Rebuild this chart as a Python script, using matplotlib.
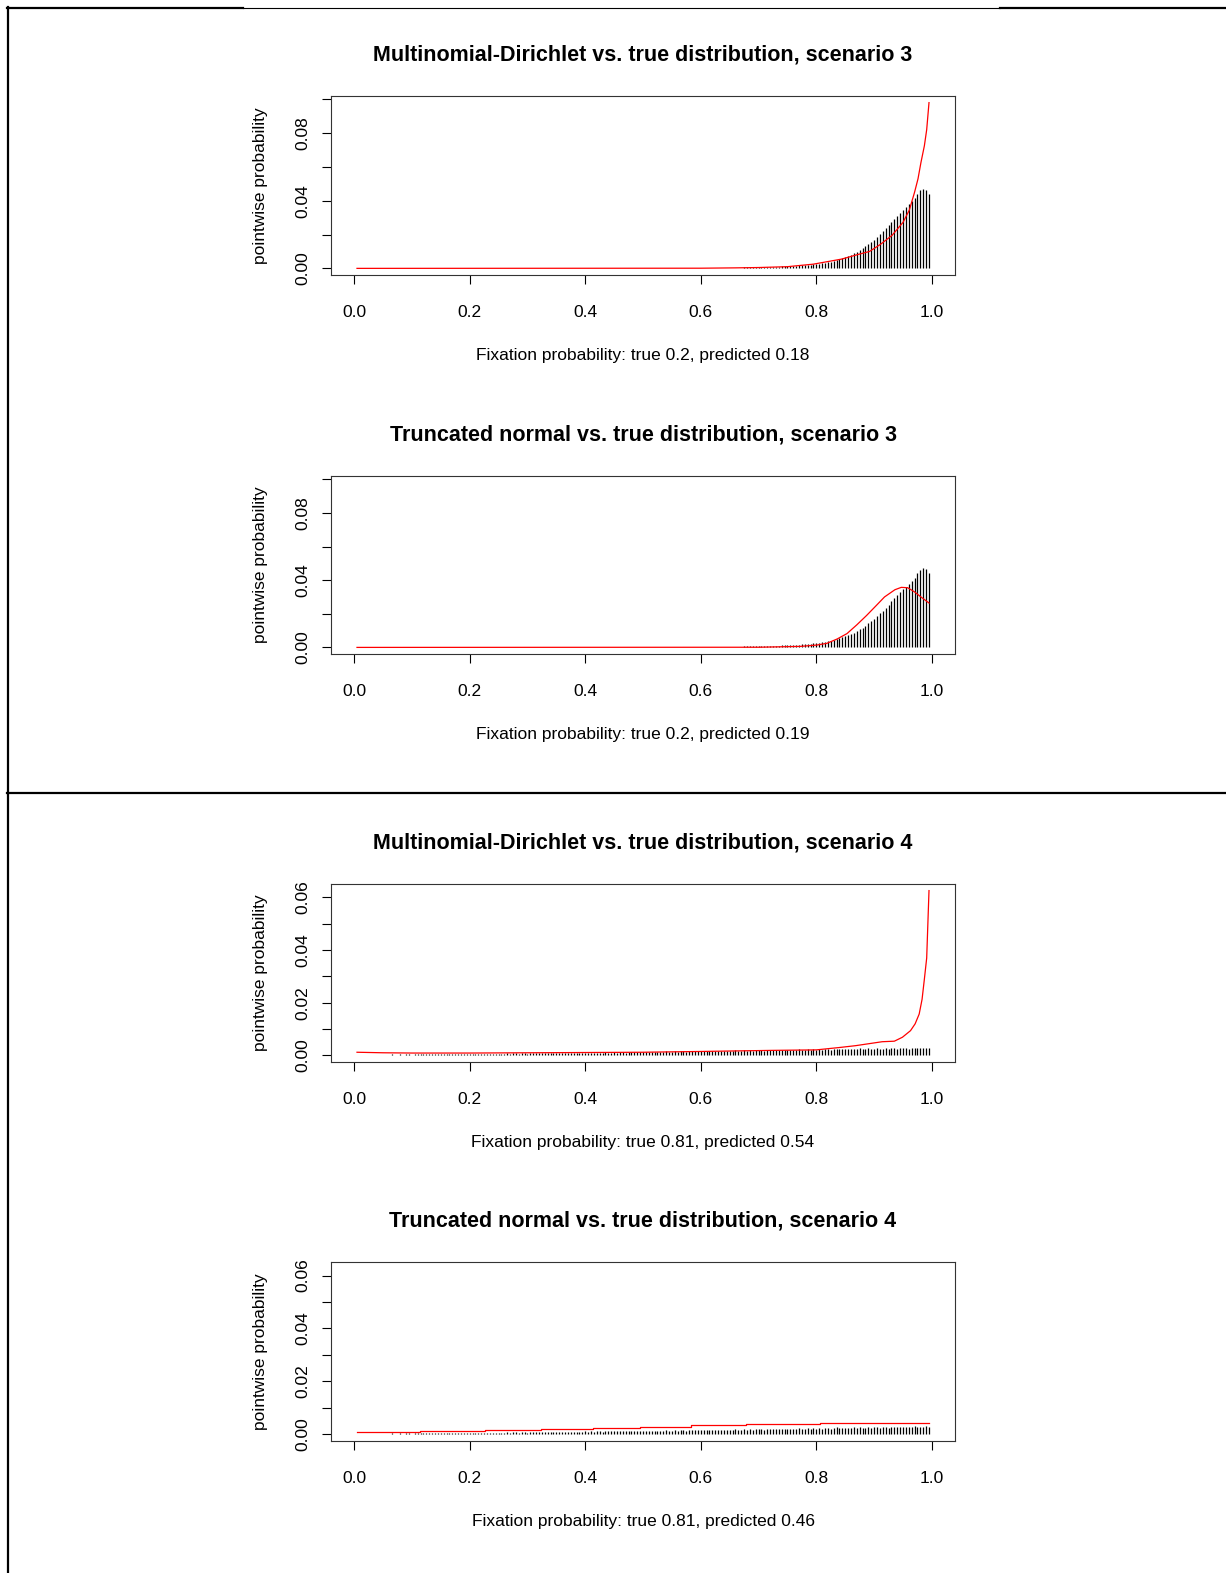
import matplotlib
matplotlib.use("Agg")
import matplotlib.pyplot as plt
from matplotlib.lines import Line2D
import numpy as np

plt.rcParams['font.family'] = ['Liberation Sans', 'DejaVu Sans']

W, H = 1226, 1573

# fixation probability grid: 1/200 ... 199/200
grid = np.arange(1, 200) / 200

# true pointwise probabilities (units of 1e-4), scenario 3: zero below 0.65
true_s3 = [0] * 129 + [
    4, 4, 5, 5, 5, 6, 6, 6, 7, 7,
    7, 8, 8, 9, 9, 10, 10, 11, 12, 12,
    13, 14, 15, 16, 17, 18, 19, 21, 22, 24,
    26, 28, 30, 33, 36, 39, 43, 48, 53, 59,
    65, 72, 80, 88, 97, 107, 118, 130, 143, 156,
    170, 186, 202, 219, 237, 255, 273, 292, 311, 330,
    346, 362, 378, 396, 415, 440, 462, 472, 466, 442,
]

# true pointwise probabilities (units of 1e-4), scenario 4
true_s4 = [
    2, 3, 2, 3, 3, 2, 3, 3, 2, 3,
    3, 3, 4, 3, 3, 4, 3, 4, 4, 3,
    4, 4, 5, 4, 4, 5, 4, 5, 5, 4,
    5, 5, 6, 5, 5, 6, 5, 6, 6, 5,
    6, 6, 7, 6, 6, 7, 6, 7, 7, 6,
    7, 7, 8, 7, 8, 8, 7, 8, 8, 7,
    8, 8, 9, 8, 9, 9, 8, 9, 9, 8,
    9, 10, 9, 10, 10, 9, 10, 10, 9, 11,
    10, 11, 10, 11, 11, 10, 12, 11, 11, 12,
    11, 12, 12, 11, 13, 12, 12, 13, 12, 13,
    13, 12, 14, 13, 13, 14, 13, 15, 14, 13,
    15, 14, 15, 16, 14, 15, 16, 15, 17, 15,
    16, 17, 16, 15, 18, 16, 17, 18, 16, 18,
    17, 19, 18, 17, 19, 18, 20, 18, 19, 20,
    19, 18, 21, 19, 20, 21, 19, 22, 20, 21,
    22, 20, 21, 23, 21, 22, 24, 21, 23, 22,
    24, 22, 23, 25, 22, 24, 26, 23, 25, 24,
    25, 23, 26, 24, 27, 25, 24, 27, 25, 26,
    28, 25, 26, 28, 25, 27, 29, 26, 28, 27,
    29, 26, 28, 30, 27, 29, 28, 30, 27,
]

# multinomial-Dirichlet prediction, scenario 3
md_s3_x = [0.005, 0.60, 0.66, 0.70, 0.75, 0.795, 0.844, 0.872, 0.892, 0.911,
           0.931, 0.950, 0.961, 0.970, 0.976, 0.981, 0.987, 0.991, 0.995]
md_s3_y = [0.0, 0.0001, 0.0003, 0.0005, 0.0010, 0.0025, 0.0055, 0.0082, 0.0100, 0.0142,
           0.0195, 0.0272, 0.0345, 0.0450, 0.0530, 0.0625, 0.0725, 0.0820, 0.0980]

# truncated normal prediction, scenario 3
tn_s3_x = [0.005, 0.70, 0.772, 0.801, 0.818, 0.836, 0.853, 0.870, 0.887,
           0.904, 0.918, 0.936, 0.947, 0.958, 0.970, 0.981, 0.995]
tn_s3_y = [0.0, 0.0001, 0.0006, 0.0014, 0.0024, 0.0050, 0.0082, 0.0134, 0.0190,
           0.0250, 0.0300, 0.0343, 0.0357, 0.0355, 0.0330, 0.0300, 0.0264]

# multinomial-Dirichlet prediction, scenario 4
md_s4_x = [0.005, 0.05, 0.10, 0.20, 0.30, 0.40, 0.50, 0.60, 0.72, 0.80, 0.84,
           0.868, 0.914, 0.935, 0.949, 0.963, 0.971, 0.978, 0.983, 0.987, 0.991, 0.995]
md_s4_y = [0.0012, 0.0010, 0.0009, 0.0009, 0.0010, 0.0011, 0.0012, 0.0015, 0.0019, 0.0021, 0.0030,
           0.0037, 0.0052, 0.0054, 0.0069, 0.0094, 0.0120, 0.0157, 0.0213, 0.0290, 0.0370, 0.0626]

# truncated normal prediction, scenario 4 (piecewise constant)
tn_s4_x = [0.005, 0.114, 0.227, 0.323, 0.413, 0.494, 0.583, 0.679, 0.806, 0.995]
tn_s4_y = [0.0009, 0.0013, 0.0017, 0.0021, 0.0025, 0.0029, 0.0034, 0.0039, 0.0044, 0.0044]

titles = [
    "Multinomial-Dirichlet vs. true distribution, scenario 3",
    "Truncated normal vs. true distribution, scenario 3",
    "Multinomial-Dirichlet vs. true distribution, scenario 4",
    "Truncated normal vs. true distribution, scenario 4",
]
xlabels = [
    "Fixation probability: true 0.2, predicted 0.18",
    "Fixation probability: true 0.2, predicted 0.19",
    "Fixation probability: true 0.81, predicted 0.54",
    "Fixation probability: true 0.81, predicted 0.46",
]
xtick_vals = [0.0, 0.2, 0.4, 0.6, 0.8, 1.0]
xtick_labels = ["0.0", "0.2", "0.4", "0.6", "0.8", "1.0"]

fig = plt.figure(figsize=(W / 100, H / 100), dpi=100)

# boxes in pixels: top, bottom
boxes = [(96, 275), (476, 654), (884, 1062), (1262, 1441)]
left_px, right_px = 331, 955

panels = [
    (true_s3, md_s3_x, md_s3_y, False, max(md_s3_y), [0, 0.04, 0.08], [0.02, 0.06, 0.10]),
    (true_s3, tn_s3_x, tn_s3_y, False, max(md_s3_y), [0, 0.04, 0.08], [0.02, 0.06, 0.10]),
    (true_s4, md_s4_x, md_s4_y, False, max(md_s4_y), [0, 0.02, 0.04, 0.06], [0.01, 0.03, 0.05]),
    (true_s4, tn_s4_x, tn_s4_y, True, max(md_s4_y), [0, 0.02, 0.04, 0.06], [0.01, 0.03, 0.05]),
]

fs = 12.5
for k, (true_vals, fx, fy, step, ymax, major, minor) in enumerate(panels):
    top, bot = boxes[k]
    ax = fig.add_axes([left_px / W, 1 - bot / H, (right_px - left_px) / W, (bot - top) / H])
    vals = np.array(true_vals) * 1e-4
    ax.vlines(grid, 0, vals, color='black', linewidth=0.9)
    if step:
        ax.step(fx, fy, where='post', color='red', linewidth=0.9)
    else:
        ax.plot(fx, fy, color='red', linewidth=0.9)

    ax.set_xlim(-0.04, 1.04)
    ax.set_ylim(-0.04 * ymax, 1.04 * ymax)
    ax.set_xticks(xtick_vals)
    ax.set_xticklabels(xtick_labels)
    ax.set_yticks(major)
    ax.set_yticks(minor, minor=True)
    ax.set_yticklabels(["%.2f" % v for v in major], rotation=90, va='center')
    ax.tick_params(which='both', direction='out', length=6.5, width=0.8,
                   labelsize=fs, colors='black')
    ax.tick_params(axis='x', pad=15)
    ax.tick_params(axis='y', pad=8)
    for s in ax.spines.values():
        s.set_linewidth(0.8)
        s.set_color('#333333')

    ax.annotate(titles[k], (0.5, 1), xycoords='axes fraction', xytext=(0, 29.5),
                textcoords='offset points', ha='center', va='center',
                fontsize=15.5, fontweight='bold')
    ax.annotate(xlabels[k], (0.5, 0), xycoords='axes fraction', xytext=(0, -58),
                textcoords='offset points', ha='center', va='center', fontsize=fs)
    ax.annotate("pointwise probability", (0, 0.5), xycoords='axes fraction',
                xytext=(-50.5, 0), textcoords='offset points', ha='center',
                va='center', rotation=90, fontsize=fs)

# page border lines
def hline(x0, x1, y, lw):
    fig.add_artist(Line2D([x0 / W, x1 / W], [1 - y / H, 1 - y / H],
                          transform=fig.transFigure, color='black', linewidth=lw))

hline(7, 243, 7.5, 1.6)
hline(243, 1000, 7.5, 0.8)
hline(1000, W, 7.5, 1.6)
hline(7, W, 793, 1.6)
fig.add_artist(Line2D([8 / W, 8 / W], [1 - 7 / H, 0], transform=fig.transFigure,
                      color='black', linewidth=1.6))

fig.savefig("out.png", dpi=100)
